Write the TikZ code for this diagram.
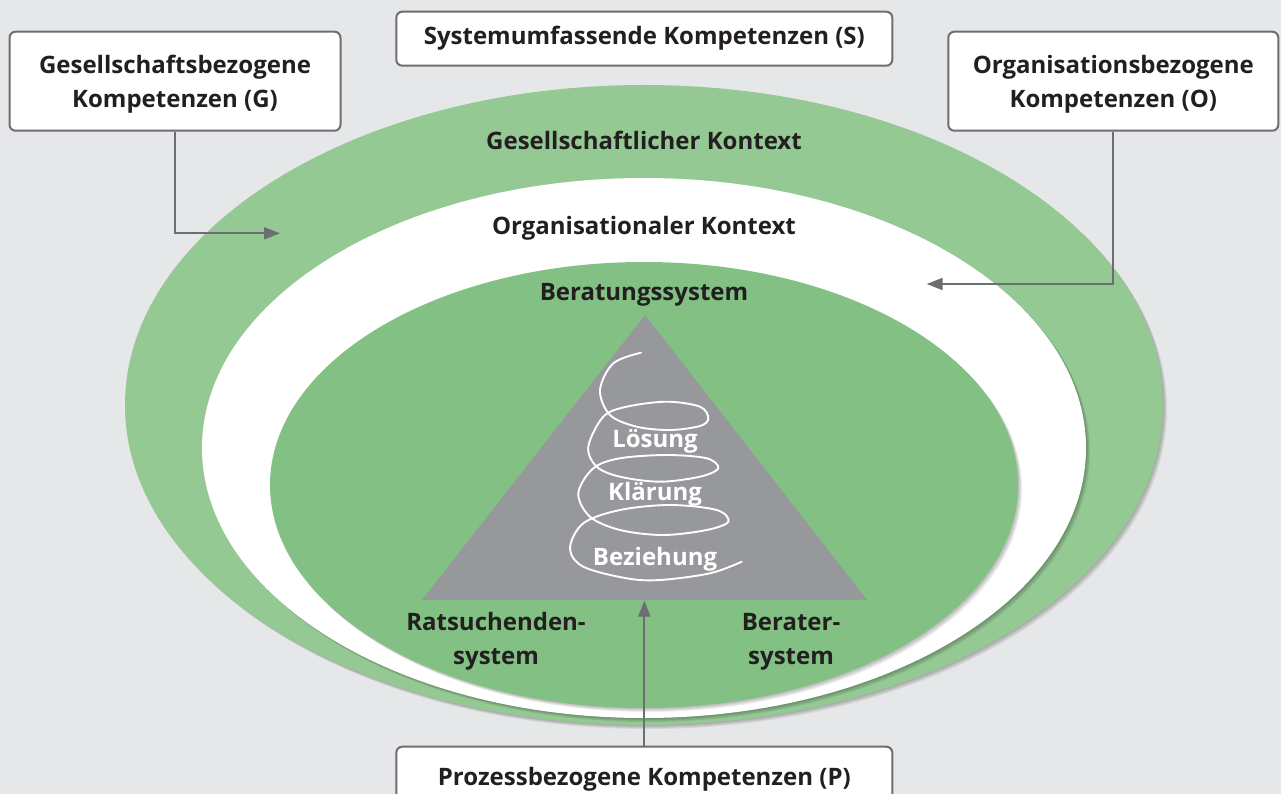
\documentclass[tikz,border=0pt]{standalone}
\usepackage{fontspec}
\setmainfont{Open Sans}
\usetikzlibrary{arrows.meta,calc}
\definecolor{bg}{HTML}{E6E7E8}
\definecolor{gout}{HTML}{95C994}
\definecolor{gin}{HTML}{82C083}
\definecolor{tri}{HTML}{97989B}
\definecolor{ink}{HTML}{231F20}
\definecolor{edge}{HTML}{6D6E71}
\newcommand{\topgap}{\rule{0pt}{25pt}}
\tikzset{
  txt/.style={font=\fontsize{24}{34}\selectfont\bfseries, text=ink, inner sep=0pt},
  lbl/.style={txt, text height=17pt, text depth=5pt},
  wlbl/.style={lbl, text=white},
  kbox/.style={txt, draw=edge, line width=2pt, fill=white, rounded corners=6pt, align=center},
  arr/.style={draw=edge, line width=2pt, -{Triangle[length=16pt,width=12pt]}},
  shad/.style={fill=black, opacity=0.07},
}
\begin{document}
\begin{tikzpicture}[x=1pt,y=-1pt]
\fill[bg] (0,0) rectangle (1281,794);
\useasboundingbox (0,0) rectangle (1281,794);
% outer ellipse
\foreach \d in {1,2,3,4}{\fill[shad] (644+\d,405+\d) ellipse [x radius=519pt, y radius=320pt];}
\fill[gout] (644,405) ellipse [x radius=519pt, y radius=320pt];
% white ellipse
\foreach \d in {1,2,3,4}{\fill[shad] (644+\d,448+\d) ellipse [x radius=442pt, y radius=270pt];}
\fill[white] (644,448) ellipse [x radius=442pt, y radius=270pt];
% inner green ellipse
\foreach \d in {1,2,3,4}{\fill[shad] (644+\d,485+\d) ellipse [x radius=374pt, y radius=223pt];}
\fill[gin] (644,485) ellipse [x radius=374pt, y radius=223pt];
% triangle
\fill[tri] (645,315) -- (867,600) -- (422,600) -- cycle;
% spiral
\draw[white, line width=1.9pt, line cap=round] plot[smooth, tension=0.55] coordinates {
 (641,352.7) (613.3,363.3) (600,390) (610,415) (636.7,426.7) (670,430) (700,426)
 (708.3,418.3) (700,406.7) (666.7,401.7) (626.7,406.7) (603.3,416.7) (588.3,446.7)
 (596.7,466.7) (620,476.7) (660,481.7) (700,476.7) (718.3,468.3) (706.7,458.3)
 (666.7,455) (620,458.3) (593.3,468.3) (578.3,493.3) (590,516.7) (620,530)
 (663,535) (706.7,530) (728.3,521.7) (716.7,510) (670,505) (620,510) (583.3,523.3)
 (570,548.3) (583.3,566.7) (626.7,578.3) (660,580) (710,573.3) (741.7,561.7)};
% labels
\node[lbl] (gk) at (644,144) {Gesellschaftlicher Kontext};
\node[lbl] (ok) at (644,229) {Organisationaler Kontext};
\node[lbl] (bs) at (644,294) {Beratungssystem};
\node[wlbl] (los) at (655,441) {Lösung};
\node[wlbl] (kla) at (655,494.5) {Klärung};
\node[wlbl] (bez) at (655,559) {Beziehung};
\node[txt, align=center] (rs) at (496,641.5) {Ratsuchenden-\\system};
\node[txt, align=center] (bsy) at (791,641.5) {Berater-\\system};
% boxes
\node[kbox, minimum width=331pt, minimum height=99pt] (G) at (175,81.2) {\topgap Gesellschaftsbezogene\\Kompetenzen (G)};
\node[kbox, minimum width=330pt, minimum height=99pt] (O) at (1113.3,81.2) {\topgap Organisationsbezogene\\Kompetenzen (O)};
\node[kbox, minimum width=496pt, minimum height=54pt] (S) at (644.3,38.7) {Systemumfassende Kompetenzen (S)};
\node[kbox, minimum width=496pt, minimum height=66pt] (P) at (644.3,779.7) {Prozessbezogene Kompetenzen (P)};
% arrows
\coordinate (gt) at (280,233.3);
\coordinate (ot) at (926.7,284);
\coordinate (pt) at (644.3,600.7);
\draw[arr] (G.south) |- (gt);
\draw[arr] (O.south) |- (ot);
\draw[arr] (P.north) -- (pt);
\end{tikzpicture}
\end{document}
